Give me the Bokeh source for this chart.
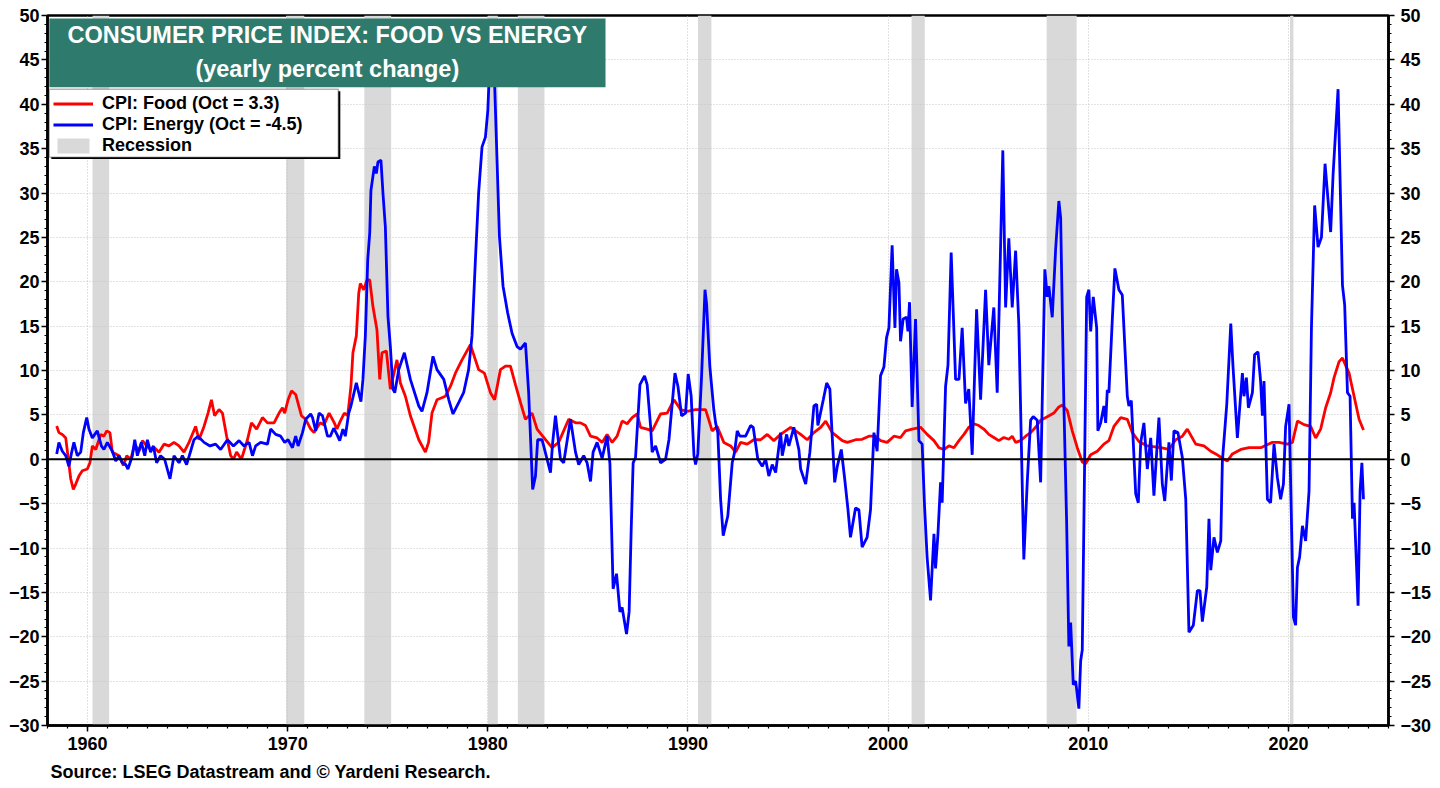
from bokeh.plotting import figure
from bokeh.models import (LinearAxis, FixedTicker, Span, BoxAnnotation, Label,
                          Legend, LegendItem, Title, Range1d)
from bokeh.embed import file_html
from bokeh.resources import INLINE

# ---------------- data ----------------
decade_ticks = [1960, 1970, 1980, 1990, 2000, 2010, 2020]
year_minor_ticks = list(range(1958, 2026))
pct_ticks = list(range(-30, 55, 5))
pct_minor_ticks = list(range(-30, 51))

rec_start = [1960.25, 1969.92, 1973.83, 1980.0, 1981.5, 1990.5, 2001.17, 2007.92, 2020.08]
rec_end = [1961.08, 1970.83, 1975.17, 1980.5, 1982.83, 1991.17, 2001.83, 2009.42, 2020.25]

food_year = [
    1958.46, 1958.57, 1958.74, 1958.91, 1959.02, 1959.16, 1959.29, 1959.41, 1959.57, 1959.74,
    1959.99, 1960.12, 1960.24, 1960.41, 1960.66, 1960.82, 1960.96, 1961.12, 1961.24, 1961.41,
    1961.57, 1961.79, 1961.96, 1962.16, 1962.36, 1962.57, 1962.74, 1962.96, 1963.15, 1963.35,
    1963.57, 1963.82, 1964.07, 1964.32, 1964.57, 1964.82, 1965.07, 1965.40, 1965.57, 1965.82,
    1966.02, 1966.19, 1966.35, 1966.57, 1966.74, 1966.95, 1967.15, 1967.29, 1967.45, 1967.69,
    1967.99, 1968.19, 1968.45, 1968.74, 1968.99, 1969.32, 1969.57, 1969.74, 1969.85, 1970.02,
    1970.19, 1970.40, 1970.69, 1970.90, 1971.15, 1971.32, 1971.62, 1971.82, 1972.07, 1972.33,
    1972.46, 1972.63, 1972.83, 1973.00, 1973.16, 1973.26, 1973.43, 1973.55, 1973.63, 1973.80,
    1973.96, 1974.10, 1974.26, 1974.46, 1974.60, 1974.71, 1974.93, 1975.13, 1975.46, 1975.63,
    1975.88, 1976.13, 1976.55, 1976.88, 1977.04, 1977.21, 1977.46, 1977.88, 1978.13, 1978.38,
    1978.71, 1979.13, 1979.38, 1979.54, 1979.83, 1980.13, 1980.34, 1980.63, 1980.88, 1981.13,
    1981.38, 1981.63, 1981.88, 1982.21, 1982.46, 1982.88, 1983.21, 1983.54, 1984.04, 1984.38,
    1984.63, 1984.88, 1985.13, 1985.46, 1985.71, 1985.96, 1986.21, 1986.46, 1986.71, 1986.96,
    1987.21, 1987.46, 1987.63, 1987.96, 1988.21, 1988.63, 1988.96, 1989.30, 1989.63, 1989.96,
    1990.38, 1990.88, 1991.21, 1991.46, 1991.79, 1992.13, 1992.38, 1992.63, 1992.96, 1993.29,
    1993.63, 1993.96, 1994.29, 1994.63, 1995.13, 1995.63, 1995.96, 1996.29, 1996.63, 1996.88,
    1997.21, 1997.71, 1997.96, 1998.38, 1998.70, 1999.04, 1999.37, 1999.62, 1999.95, 2000.29,
    2000.62, 2000.87, 2001.20, 2001.62, 2001.95, 2002.29, 2002.54, 2002.79, 2003.04, 2003.29,
    2003.54, 2003.79, 2004.03, 2004.28, 2004.53, 2004.78, 2005.03, 2005.28, 2005.53, 2005.78,
    2006.03, 2006.20, 2006.37, 2006.62, 2006.87, 2007.12, 2007.37, 2007.62, 2007.95, 2008.28,
    2008.53, 2008.70, 2008.95, 2009.20, 2009.45, 2009.70, 2009.87, 2010.12, 2010.45, 2010.78,
    2011.03, 2011.28, 2011.62, 2011.95, 2012.20, 2012.53, 2012.95, 2013.62, 2014.03, 2014.37,
    2014.70, 2014.95, 2015.37, 2015.78, 2016.12, 2016.37, 2016.78, 2016.95, 2017.20, 2017.62,
    2018.03, 2018.62, 2019.20, 2019.53, 2019.95, 2020.20, 2020.45, 2020.78, 2021.11, 2021.36,
    2021.61, 2021.86, 2022.11, 2022.28, 2022.53, 2022.70, 2023.03, 2023.28, 2023.53, 2023.75]
food_pct = [
    3.75, 3.0, 2.8, 2.4, 0.4, -2.2, -3.4, -2.8, -1.9, -1.3,
    -1.1, -0.4, 1.5, 1.1, 2.8, 2.6, 3.2, 3.0, 0.8, 0.6,
    0.4, -0.7, 0.4, 0.0, 1.7, 0.9, 2.1, 1.5, 1.1, 1.3,
    0.8, 1.7, 1.5, 1.9, 1.5, 0.8, 1.9, 3.7, 2.2, 3.7,
    5.2, 6.7, 4.9, 5.6, 5.2, 2.6, 0.4, 0.0, 0.8, 0.0,
    2.2, 4.1, 3.4, 4.7, 4.1, 4.1, 5.2, 5.8, 5.2, 6.7,
    7.7, 7.3, 4.9, 4.5, 3.4, 3.0, 4.1, 3.9, 5.2, 4.1,
    3.4, 4.3, 5.2, 4.9, 8.2, 12.0, 13.9, 18.7, 19.8, 19.1,
    20.2, 20.2, 17.2, 14.6, 9.0, 12.0, 12.2, 7.9, 11.2, 8.6,
    7.1, 4.9, 2.2, 0.8, 1.9, 5.2, 6.7, 7.1, 8.2, 9.7,
    11.2, 12.9, 11.2, 10.1, 9.7, 7.5, 6.7, 10.1, 10.5, 10.5,
    8.4, 6.4, 4.5, 5.2, 3.4, 2.2, 1.3, 1.9, 4.5, 4.1,
    4.1, 3.8, 2.6, 2.4, 1.9, 2.8, 1.9, 2.6, 4.3, 4.0,
    4.7, 5.1, 3.6, 3.4, 3.2, 5.1, 5.2, 6.7, 5.6, 5.4,
    5.6, 5.6, 3.2, 3.7, 1.9, 1.5, 0.8, 1.9, 1.7, 2.2,
    2.2, 2.8, 2.1, 2.8, 3.6, 2.8, 2.2, 3.0, 3.6, 4.3,
    3.0, 2.1, 1.9, 2.2, 2.25, 2.6, 2.6, 2.1, 1.9, 2.6,
    2.45, 3.2, 3.4, 3.6, 2.8, 2.1, 1.3, 1.1, 1.5, 1.3,
    2.1, 2.8, 3.6, 4.0, 3.8, 3.4, 2.8, 2.45, 2.1, 2.45,
    2.25, 2.6, 1.9, 2.1, 2.6, 3.0, 3.6, 4.4, 4.8, 5.2,
    5.9, 6.1, 5.5, 3.2, 1.3, -0.3, -0.5, 0.5, 0.9, 1.7,
    2.1, 3.7, 4.7, 4.5, 3.0, 2.0, 1.5, 1.3, 1.1, 2.2,
    2.6, 3.4, 1.7, 1.5, 0.9, 0.6, 0.0, -0.2, 0.6, 1.1,
    1.3, 1.3, 1.9, 1.9, 1.7, 1.9, 4.3, 3.9, 3.7, 2.4,
    3.4, 5.8, 7.5, 9.2, 11.0, 11.4, 9.7, 7.1, 4.5, 3.3]

energy_year = [
    1958.46, 1958.57, 1958.74, 1958.91, 1959.07, 1959.19, 1959.32, 1959.49, 1959.66, 1959.79,
    1959.96, 1960.07, 1960.24, 1960.36, 1960.49, 1960.69, 1960.82, 1960.99, 1961.24, 1961.41,
    1961.57, 1961.74, 1961.91, 1962.02, 1962.24, 1962.36, 1962.49, 1962.69, 1962.86, 1962.99,
    1963.15, 1963.29, 1963.45, 1963.65, 1963.85, 1964.12, 1964.32, 1964.57, 1964.74, 1964.95,
    1965.15, 1965.32, 1965.52, 1965.82, 1966.12, 1966.40, 1966.65, 1966.99, 1967.29, 1967.57,
    1967.82, 1968.07, 1968.24, 1968.40, 1968.65, 1968.99, 1969.15, 1969.40, 1969.65, 1969.85,
    1970.02, 1970.24, 1970.40, 1970.52, 1970.74, 1970.90, 1971.15, 1971.24, 1971.40, 1971.57,
    1971.74, 1971.99, 1972.13, 1972.30, 1972.46, 1972.60, 1972.76, 1972.88, 1973.05, 1973.16,
    1973.43, 1973.66, 1973.76, 1973.88, 1974.00, 1974.10, 1974.16, 1974.33, 1974.43, 1974.51,
    1974.66, 1974.76, 1974.88, 1975.01, 1975.13, 1975.26, 1975.35, 1975.55, 1975.83, 1976.13,
    1976.55, 1976.71, 1976.96, 1977.26, 1977.46, 1977.80, 1978.05, 1978.26, 1978.55, 1978.79,
    1979.04, 1979.21, 1979.38, 1979.54, 1979.71, 1979.88, 1980.00, 1980.10, 1980.21, 1980.33,
    1980.46, 1980.58, 1980.76, 1980.99, 1981.21, 1981.46, 1981.63, 1981.88, 1982.04, 1982.24,
    1982.38, 1982.49, 1982.71, 1982.79, 1983.13, 1983.24, 1983.38, 1983.63, 1983.79, 1984.13,
    1984.38, 1984.54, 1984.79, 1984.96, 1985.13, 1985.26, 1985.46, 1985.71, 1985.96, 1986.10,
    1986.26, 1986.43, 1986.60, 1986.71, 1986.93, 1987.06, 1987.16, 1987.26, 1987.38, 1987.60,
    1987.83, 1987.96, 1988.13, 1988.21, 1988.38, 1988.63, 1988.88, 1989.05, 1989.35, 1989.50,
    1989.68, 1989.88, 1990.01, 1990.16, 1990.30, 1990.38, 1990.49, 1990.68, 1990.85, 1990.93,
    1991.09, 1991.29, 1991.38, 1991.49, 1991.63, 1991.76, 1991.99, 1992.21, 1992.33, 1992.46,
    1992.59, 1992.88, 1993.13, 1993.26, 1993.49, 1993.71, 1993.88, 1994.04, 1994.21, 1994.38,
    1994.63, 1994.71, 1994.93, 1995.04, 1995.29, 1995.54, 1995.63, 1995.88, 1996.09, 1996.29,
    1996.43, 1996.49, 1996.76, 1996.93, 1997.09, 1997.21, 1997.33, 1997.46, 1997.66, 1997.83,
    1997.99, 1998.12, 1998.37, 1998.54, 1998.70, 1998.95, 1999.12, 1999.29, 1999.45, 1999.62,
    1999.79, 1999.92, 2000.04, 2000.20, 2000.34, 2000.42, 2000.54, 2000.62, 2000.75, 2000.92,
    2000.99, 2001.07, 2001.20, 2001.37, 2001.54, 2001.70, 2001.82, 2001.95, 2002.12, 2002.29,
    2002.37, 2002.49, 2002.62, 2002.70, 2002.87, 2002.99, 2003.15, 2003.37, 2003.54, 2003.70,
    2003.87, 2004.03, 2004.20, 2004.42, 2004.62, 2004.87, 2005.03, 2005.28, 2005.45, 2005.73,
    2005.87, 2006.03, 2006.20, 2006.37, 2006.53, 2006.78, 2006.95, 2007.12, 2007.25, 2007.45,
    2007.62, 2007.83, 2007.95, 2008.03, 2008.20, 2008.37, 2008.53, 2008.62, 2008.78, 2008.92,
    2009.03, 2009.12, 2009.25, 2009.37, 2009.53, 2009.62, 2009.70, 2009.78, 2009.92, 2010.03,
    2010.12, 2010.25, 2010.42, 2010.48, 2010.62, 2010.78, 2010.87, 2010.95, 2011.03, 2011.20,
    2011.33, 2011.53, 2011.70, 2011.95, 2012.03, 2012.15, 2012.37, 2012.50, 2012.62, 2012.78,
    2012.95, 2013.12, 2013.28, 2013.53, 2013.70, 2013.82, 2014.03, 2014.15, 2014.28, 2014.48,
    2014.70, 2014.87, 2015.03, 2015.25, 2015.45, 2015.58, 2015.70, 2015.92, 2016.03, 2016.12,
    2016.28, 2016.45, 2016.62, 2016.70, 2016.92, 2017.12, 2017.23, 2017.45, 2017.70, 2017.78,
    2017.90, 2018.00, 2018.20, 2018.31, 2018.48, 2018.61, 2018.70, 2018.78, 2018.95, 2019.11,
    2019.28, 2019.45, 2019.61, 2019.75, 2019.86, 2020.03, 2020.25, 2020.36, 2020.45, 2020.56,
    2020.70, 2020.86, 2021.03, 2021.15, 2021.31, 2021.48, 2021.65, 2021.83, 2022.11, 2022.23,
    2022.48, 2022.70, 2022.81, 2022.95, 2023.08, 2023.20, 2023.28, 2023.48, 2023.58, 2023.67,
    2023.75]
energy_pct = [
    0.6, 1.9, 0.9, 0.4, -0.8, 0.6, 1.9, 0.4, 0.8, 3.0,
    4.7, 3.4, 2.4, 2.8, 3.2, 1.5, 1.1, 1.9, 0.9, -0.2,
    0.4, -0.4, -0.6, -1.1, 0.4, 2.2, 0.4, 1.9, 0.4, 2.2,
    0.8, 1.5, -0.4, 0.4, 0.0, -2.2, 0.4, -0.4, 0.4, -0.6,
    0.9, 2.2, 2.6, 1.9, 1.5, 1.7, 1.1, 2.2, 1.5, 2.1,
    1.5, 1.9, 0.4, 1.5, 1.9, 1.7, 3.4, 2.8, 2.6, 1.9,
    2.2, 1.3, 2.6, 1.5, 3.0, 4.5, 5.1, 4.7, 3.2, 5.2,
    4.9, 2.6, 2.6, 3.5, 2.8, 2.1, 3.4, 2.6, 5.2, 6.0,
    8.6, 6.5, 9.0, 13.9, 22.5, 25.5, 30.3, 33.0, 32.2, 33.5,
    33.7, 30.0, 26.2, 16.1, 12.7, 7.9, 7.5, 10.1, 12.0, 9.0,
    6.0, 5.4, 7.5, 11.6, 10.1, 9.0, 6.7, 5.1, 6.4, 7.5,
    10.1, 13.9, 22.5, 30.0, 35.2, 36.3, 39.3, 44.9, 46.5, 43.0,
    33.7, 25.1, 19.5, 16.5, 14.2, 12.7, 12.4, 13.1, 7.5, -3.4,
    -1.9, 2.2, 2.2, 1.5, -1.5, 1.9, 4.9, 0.0, -0.4, 4.5,
    0.8, -0.6, 0.4, -0.4, -2.5, 0.8, 1.9, 0.1, 2.6, -0.5,
    -14.6, -12.9, -17.2, -16.7, -19.7, -17.2, -8.2, -0.4, 0.2, 8.4,
    9.4, 8.4, 3.8, 0.8, 1.5, -0.4, 0.0, 2.2, 9.7, 8.2,
    4.9, 5.2, 9.6, 7.1, 0.4, -0.6, 0.6, 9.4, 19.1, 17.5,
    10.5, 5.6, 4.1, 3.0, -4.5, -8.6, -6.4, -0.4, 0.8, 3.2,
    2.6, 2.6, 3.8, 3.6, 0.0, -0.8, 0.0, -1.9, -0.6, -1.5,
    3.0, 0.4, 2.8, 1.5, 3.6, 1.1, -1.1, -2.8, 0.8, 6.0,
    6.2, 3.8, 6.7, 8.6, 7.9, 2.4, -2.6, -0.8, 1.1, -2.2,
    -5.6, -8.8, -5.5, -5.7, -9.9, -8.8, -5.7, 3.0, 0.9, 9.4,
    10.4, 13.7, 14.8, 24.1, 14.8, 21.4, 19.9, 13.3, 15.8, 16.0,
    14.4, 17.7, 5.9, 15.8, 2.1, 1.7, -5.3, -11.1, -15.9, -8.4,
    -12.3, -8.4, -2.6, -4.9, 8.2, 10.6, 23.3, 9.0, 9.0, 14.8,
    6.3, 7.9, 0.5, 16.9, 6.7, 19.1, 10.6, 17.1, 7.5, 34.8,
    17.1, 24.9, 17.1, 23.5, 15.2, -11.3, -2.6, 4.4, 4.8, 4.4,
    -2.6, 21.4, 18.3, 19.5, 16.0, 23.7, 29.1, 27.2, 6.3, -7.2,
    -21.1, -18.4, -25.4, -25.0, -28.1, -22.7, -21.5, -7.2, 18.3, 19.1,
    14.4, 18.3, 14.8, 3.2, 4.1, 6.0, 4.1, 7.8, 7.5, 15.7,
    21.5, 19.1, 18.5, 7.1, 6.0, 6.6, -3.9, -4.9, 1.9, 4.1,
    -1.1, 2.4, -4.1, 4.7, -2.8, -4.7, 1.9, -2.4, 3.2, 3.0,
    0.2, -4.5, -19.5, -18.7, -14.8, -14.8, -18.3, -14.4, -6.7, -12.5,
    -8.8, -10.5, -9.2, -0.2, 6.2, 15.3, 10.5, 2.4, 9.7, 7.1,
    9.2, 5.8, 7.5, 11.8, 12.1, 8.8, 4.9, 8.8, -4.5, -4.9,
    1.7, -2.1, -4.5, -2.8, 3.7, 6.2, -17.8, -18.7, -12.2, -11.0,
    -7.5, -9.2, -3.6, 14.8, 28.6, 23.9, 25.0, 33.3, 25.6, 32.0,
    41.7, 19.6, 17.4, 7.5, 7.1, -6.7, -4.9, -16.5, -3.6, -0.4,
    -4.5]

title_line1 = "CONSUMER PRICE INDEX: FOOD VS ENERGY"
title_line2 = "(yearly percent change)"
legend_labels = ["CPI: Food (Oct = 3.3)", "CPI: Energy (Oct = -4.5)", "Recession"]
source_text = "Source: LSEG Datastream and \u00a9 Yardeni Research."

# ---------------- styling ----------------
FONT = "Liberation Sans"
GREEN = "#2e7b6e"
REC_GRAY = "#d9d9d9"

p = figure(width=1440, height=788,
           x_range=Range1d(1958, 2025), y_range=Range1d(-30, 50),
           output_backend="svg", toolbar_location=None,
           min_border_left=47, min_border_right=52,
           min_border_top=15, min_border_bottom=61)
p.background_fill_color = "white"
p.border_fill_color = "white"
p.outline_line_color = "black"
p.outline_line_width = 2.5


def style_axis(ax):
    ax.axis_line_color = "black"
    ax.axis_line_width = 2.5
    ax.major_tick_line_color = "black"
    ax.major_tick_line_width = 1.5
    ax.minor_tick_line_color = "black"
    ax.minor_tick_line_width = 1.2
    ax.major_tick_in = 0
    ax.minor_tick_in = 0
    ax.major_tick_out = 6
    ax.minor_tick_out = 3
    ax.major_label_text_font = FONT
    ax.major_label_text_font_style = "bold"
    ax.major_label_text_font_size = "18px"
    ax.major_label_text_color = "black"


p.xaxis.ticker = FixedTicker(ticks=decade_ticks, minor_ticks=year_minor_ticks)
p.xaxis.major_label_standoff = 5
style_axis(p.xaxis[0])

p.yaxis.ticker = FixedTicker(ticks=pct_ticks, minor_ticks=pct_minor_ticks)
p.yaxis.major_label_standoff = 2
style_axis(p.yaxis[0])

right_axis = LinearAxis(ticker=FixedTicker(ticks=pct_ticks, minor_ticks=pct_minor_ticks))
style_axis(right_axis)
right_axis.major_label_standoff = 6
p.add_layout(right_axis, "right")

p.xgrid.ticker = FixedTicker(ticks=decade_ticks)
p.ygrid.ticker = FixedTicker(ticks=pct_ticks)
for g in (p.xgrid[0], p.ygrid[0]):
    g.grid_line_color = "#c4c4c4"
    g.grid_line_dash = "1 2"
    g.grid_line_width = 1

# recession bands
rec_r = p.quad(left=rec_start, right=rec_end, top=50, bottom=-30,
               fill_color=REC_GRAY, line_color=None, level="underlay")

p.add_layout(Span(location=0, dimension="width", line_color="black", line_width=2.2))

food_r = p.line(food_year, food_pct, line_color="#ff0000", line_width=2.8)
energy_r = p.line(energy_year, energy_pct, line_color="#0000ff", line_width=2.8)

# title box
p.add_layout(BoxAnnotation(left=1958.09, right=1985.88, top=49.66, bottom=41.91,
                           fill_color=GREEN, fill_alpha=1.0, line_color=None))
for txt, yy in ((title_line1, 47.75), (title_line2, 43.93)):
    p.add_layout(Label(x=1971.98, y=yy, text=txt, text_align="center",
                       text_baseline="middle", text_color="white",
                       text_font=FONT, text_font_style="bold", text_font_size="23.5px"))

# legend box (shadow + frame)
p.add_layout(BoxAnnotation(left=1958.19, right=1972.63, top=41.47, bottom=33.82,
                           fill_color="black", fill_alpha=1.0, line_color=None))
p.add_layout(BoxAnnotation(left=1958.086, right=1972.53, top=41.69, bottom=34.04,
                           fill_color="white", fill_alpha=1.0,
                           line_color="black", line_width=1.5))

legend = Legend(items=[LegendItem(label=legend_labels[0], renderers=[food_r]),
                       LegendItem(label=legend_labels[1], renderers=[energy_r]),
                       LegendItem(label=legend_labels[2], renderers=[rec_r])],
                location=(6, 569), orientation="vertical",
                background_fill_alpha=0.0, border_line_color=None,
                label_text_font=FONT, label_text_font_style="bold",
                label_text_font_size="18px", label_text_color="black",
                glyph_width=40, glyph_height=19, label_height=19,
                label_standoff=9, spacing=0, padding=3, margin=0)
p.add_layout(legend)

p.add_layout(Title(text=source_text, align="left", offset=3, standoff=14,
                   text_font=FONT, text_font_style="bold",
                   text_font_size="18px", text_color="black"), "below")

open("out.html", "w").write(file_html(p, INLINE))
